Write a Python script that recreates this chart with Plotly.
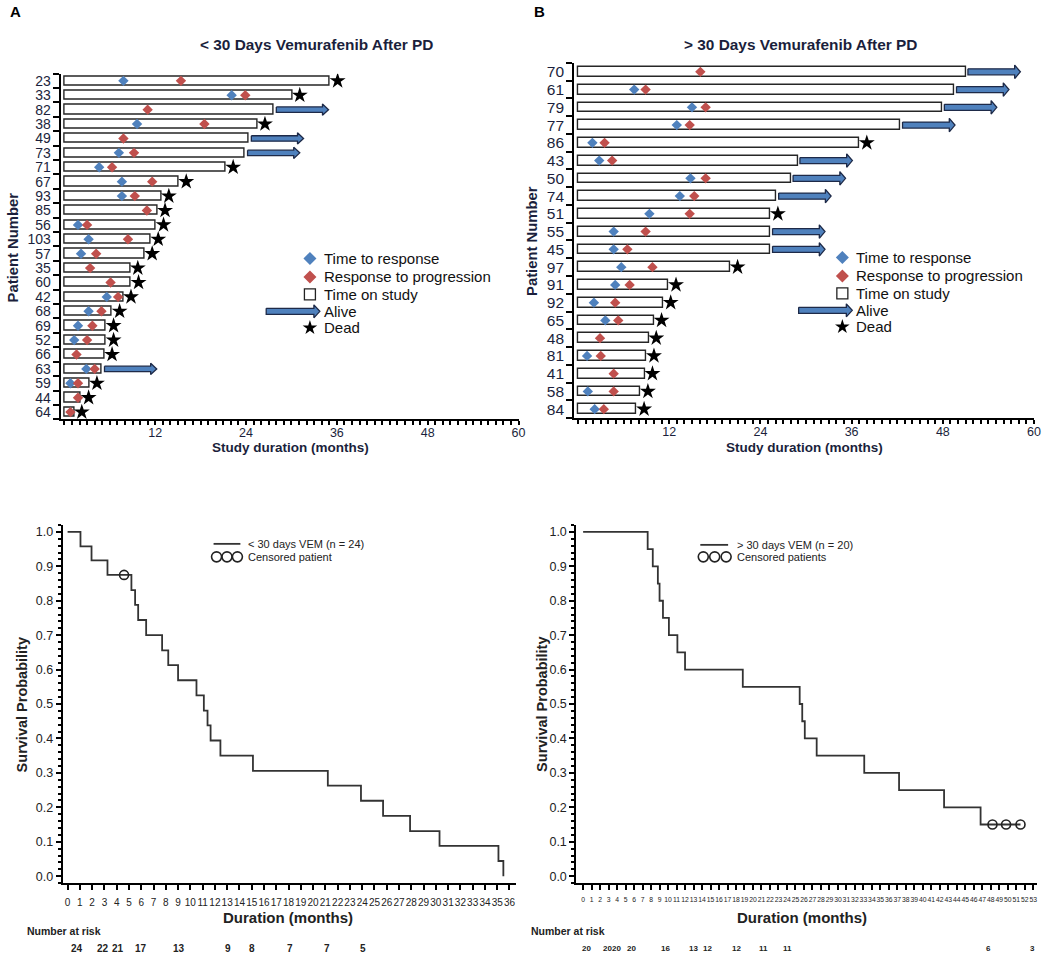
import plotly.graph_objects as go

# ---------------- data ----------------
A_PATIENTS = ["23", "33", "82", "38", "49", "73", "71", "67", "93", "85", "56", "103",
              "57", "35", "60", "42", "68", "69", "52", "66", "63", "59", "44", "64"]
A_END = [35.1, 30.1, 27.6, 25.5, 24.3, 23.8, 21.3, 15.1, 12.8, 12.3, 12.1, 11.4,
         10.6, 8.7, 8.8, 7.8, 6.3, 5.5, 5.5, 5.3, 4.9, 3.3, 2.2, 1.3]
A_RESPONSE = [7.8, 22.1, None, 9.6, None, 7.2, 4.6, 7.6, 7.6, None, 1.8, 3.2,
              2.2, None, None, 5.6, 3.2, 1.8, 1.3, None, 2.9, 0.8, None, None]
A_PROGRESSION = [15.4, 23.9, 11.0, 18.5, 7.8, 9.2, 6.3, 11.6, 9.3, 10.9, 3.0, 8.4,
                 4.2, 3.4, 6.1, 7.1, 4.9, 3.7, 3.0, 1.6, 4.0, 1.8, 1.8, 0.8]
A_ALIVE = [0, 0, 1, 0, 1, 1, 0, 0, 0, 0, 0, 0, 0, 0, 0, 0, 0, 0, 0, 0, 1, 0, 0, 0]

B_PATIENTS = ["70", "61", "79", "77", "86", "43", "50", "74", "51", "55",
              "45", "97", "91", "92", "65", "48", "81", "41", "58", "84"]
B_END = [51.0, 49.5, 47.9, 42.4, 37.0, 28.9, 28.0, 26.1, 25.3, 25.3,
         25.3, 20.0, 11.9, 11.2, 10.0, 9.3, 9.0, 8.8, 8.2, 7.7]
B_RESPONSE = [None, 7.4, 15.0, 13.0, 1.9, 2.8, 14.8, 13.4, 9.4, 4.7,
              4.7, 5.7, 4.9, 2.1, 3.6, None, 1.2, None, 1.3, 2.2]
B_PROGRESSION = [16.1, 8.9, 16.8, 14.7, 3.5, 4.5, 16.8, 15.3, 14.7, 8.9,
                 6.5, 9.8, 6.8, 4.9, 5.3, 2.9, 3.0, 4.7, 4.7, 3.4]
B_ALIVE = [1, 1, 1, 1, 0, 1, 1, 1, 0, 1, 1, 0, 0, 0, 0, 0, 0, 0, 0, 0]

KM_A_TIME = [0, 1.05, 1.95, 3.25, 5.2, 5.5, 5.75, 6.4, 7.7, 8.2, 9.0, 10.5,
             11.1, 11.4, 11.65, 12.45, 15.1, 21.2, 23.9, 25.7, 27.9, 30.3, 35.1, 35.5]
KM_A_SURV = [1.0, 0.958, 0.917, 0.875, 0.831, 0.788, 0.744, 0.700, 0.656, 0.613, 0.569, 0.525,
             0.481, 0.438, 0.394, 0.350, 0.306, 0.263, 0.219, 0.175, 0.131, 0.088, 0.044, 0.0]
KM_A_CENSOR_T = [4.6]
KM_A_CENSOR_S = [0.875]

KM_B_TIME = [0, 7.6, 8.2, 8.8, 9.0, 9.4, 10.1, 11.1, 12.0, 18.8, 25.5, 25.8,
             26.1, 27.5, 33.1, 37.2, 42.5, 46.8, 51.5]
KM_B_SURV = [1.0, 0.95, 0.90, 0.85, 0.80, 0.75, 0.70, 0.65, 0.60, 0.55, 0.50, 0.45,
             0.40, 0.35, 0.30, 0.25, 0.20, 0.15, 0.15]
KM_B_CENSOR_T = [48.2, 49.8, 51.5]
KM_B_CENSOR_S = [0.15, 0.15, 0.15]

RISK_A_TIME = [0.8, 2.9, 4.1, 6.0, 9.1, 13.1, 15.0, 18.1, 21.1, 24.1]
RISK_A_N = [24, 22, 21, 17, 13, 9, 8, 7, 7, 5]
RISK_B_TIME = [0.35, 2.9, 3.9, 5.7, 9.7, 13.0, 14.7, 18.1, 21.2, 24.1, 47.7, 52.9]
RISK_B_N = [20, 20, 20, 20, 16, 13, 12, 12, 11, 11, 6, 3]

SWIM_TICKS = [12, 24, 36, 48, 60]
KM_TICKS_Y = [0.0, 0.1, 0.2, 0.3, 0.4, 0.5, 0.6, 0.7, 0.8, 0.9, 1.0]

# ---------------- styling ----------------
W, H = 1050, 954
FONT = "Liberation Sans, Arial, sans-serif"
NAVY = "#1b1f3c"
INK = "#222222"
BLUE = "#4f81bd"
RED = "#c0504d"
ARROW_EDGE = "#1e2a48"


def px_x(p):
    return p / W


def px_y(p):
    return 1 - p / H


fig = go.Figure()


def add_swimmer(xa, ya, ends, resp, prog, alive, bar_w, gap, alen, head_len, body_h, head_h,
                star_off, star_size, dia_size):
    idx = list(range(len(ends)))
    fig.add_trace(go.Bar(x=ends, y=idx, base=0, orientation="h", width=bar_w,
                         marker=dict(color="white", line=dict(color="#262626", width=1.4)),
                         xaxis=xa, yaxis=ya, showlegend=False, hoverinfo="skip"))
    ax, ay = [], []
    for i, (e, a) in enumerate(zip(ends, alive)):
        if a:
            x0 = e + gap
            x1 = x0 + alen
            xh = x1 - head_len
            ax += [x0, xh, xh, x1, xh, xh, x0, x0, None]
            ay += [i - body_h, i - body_h, i - head_h, i, i + head_h, i + body_h, i + body_h, i - body_h, None]
    fig.add_trace(go.Scatter(x=ax, y=ay, mode="lines", fill="toself", fillcolor=BLUE,
                             line=dict(color=ARROW_EDGE, width=1.3), xaxis=xa, yaxis=ya,
                             showlegend=False, hoverinfo="skip"))
    ri = [i for i, v in enumerate(resp) if v is not None]
    fig.add_trace(go.Scatter(x=[resp[i] for i in ri], y=ri, mode="markers",
                             marker=dict(symbol="diamond", size=dia_size, color=BLUE),
                             xaxis=xa, yaxis=ya, showlegend=False))
    fig.add_trace(go.Scatter(x=prog, y=idx, mode="markers",
                             marker=dict(symbol="diamond", size=dia_size, color=RED),
                             xaxis=xa, yaxis=ya, showlegend=False))
    di = [i for i, a in enumerate(alive) if not a]
    fig.add_trace(go.Scatter(x=[ends[i] + star_off for i in di], y=di, mode="markers",
                             marker=dict(symbol="star", size=star_size, color="black"),
                             xaxis=xa, yaxis=ya, showlegend=False))


add_swimmer("x", "y", A_END, A_RESPONSE, A_PROGRESSION, A_ALIVE, 0.64, 0.4, 6.9, 0.8, 0.19, 0.39,
            1.0, 12, 8)
add_swimmer("x2", "y2", B_END, B_RESPONSE, B_PROGRESSION, B_ALIVE, 0.55, 0.3, 6.9, 0.75, 0.17, 0.38,
            1.0, 12, 8)

# Kaplan-Meier curves
for xa, ya, t, s, ct, cs in [("x3", "y3", KM_A_TIME, KM_A_SURV, KM_A_CENSOR_T, KM_A_CENSOR_S),
                             ("x4", "y4", KM_B_TIME, KM_B_SURV, KM_B_CENSOR_T, KM_B_CENSOR_S)]:
    fig.add_trace(go.Scatter(x=t, y=s, mode="lines", line=dict(color="#333333", width=1.8, shape="hv"),
                             xaxis=xa, yaxis=ya, showlegend=False))
    fig.add_trace(go.Scatter(x=ct, y=cs, mode="markers",
                             marker=dict(symbol="circle-open", size=9, color="#222222", line=dict(width=1.6)),
                             xaxis=xa, yaxis=ya, showlegend=False))

# ---------------- legend keys (layout, pixel space overlay) ----------------
LEG_SWIM = [  # (symbol x, text x, first row y) per panel
    (312, 324, 258),
    (848, 860, 257),
]
LEG_ROWS = [0, 18.5, 36, 53, 69.5]
LEG_TEXT = ["Time to response", "Response to progression", "Time on study", "Alive", "Dead"]
for sx, tx, y0 in LEG_SWIM:
    ys = [y0 + d for d in LEG_ROWS]
    fig.add_trace(go.Scatter(x=[sx, sx], y=ys[:2], mode="markers",
                             marker=dict(symbol="diamond", size=10, color=[BLUE, RED]),
                             xaxis="x5", yaxis="y5", showlegend=False, hoverinfo="skip"))
    fig.add_trace(go.Scatter(x=[sx], y=[ys[2]], mode="markers",
                             marker=dict(symbol="square-open", size=11, color="#222222", line=dict(width=1.3)),
                             xaxis="x5", yaxis="y5", showlegend=False, hoverinfo="skip"))
    fig.add_trace(go.Scatter(x=[sx], y=[ys[4]], mode="markers",
                             marker=dict(symbol="star", size=11, color="black"),
                             xaxis="x5", yaxis="y5", showlegend=False, hoverinfo="skip"))
    ax0, ax1 = sx - 44, tx - 2
    axh = ax1 - 6
    yc = ys[3]
    fig.add_trace(go.Scatter(x=[ax0, axh, axh, ax1, axh, axh, ax0, ax0],
                             y=[yc - 3, yc - 3, yc - 6.5, yc, yc + 6.5, yc + 3, yc + 3, yc - 3],
                             mode="lines", fill="toself", fillcolor=BLUE,
                             line=dict(color=ARROW_EDGE, width=1.3),
                             xaxis="x5", yaxis="y5", showlegend=False, hoverinfo="skip"))

LEG_KM = [  # (line x0, line x1, circle xs, text x, y line, y circles, labels)
    (215, 242, [218, 228.5, 239], 248, 544, 557, "&lt; 30 days VEM (n = 24)", "Censored patient"),
    (705, 733, [708, 719.5, 731], 740, 545, 557, "&gt; 30 days VEM (n = 20)", "Censored patients"),
]
annotations = []
for lx0, lx1, cxs, tx, yl, yc, lab1, lab2 in LEG_KM:
    fig.add_trace(go.Scatter(x=[lx0, lx1], y=[yl, yl], mode="lines", line=dict(color="#333333", width=1.8),
                             xaxis="x5", yaxis="y5", showlegend=False, hoverinfo="skip"))
    fig.add_trace(go.Scatter(x=cxs, y=[yc] * 3, mode="markers",
                             marker=dict(symbol="circle-open", size=10, color="#222222", line=dict(width=1.6)),
                             xaxis="x5", yaxis="y5", showlegend=False, hoverinfo="skip"))
    for lab, yy in [(lab1, yl), (lab2, yc)]:
        annotations.append(dict(text=lab, x=px_x(tx), y=px_y(yy), xref="paper", yref="paper",
                                xanchor="left", yanchor="middle", showarrow=False,
                                font=dict(family=FONT, size=11, color=INK)))

for sx, tx, y0 in LEG_SWIM:
    for k, (lab, d) in enumerate(zip(LEG_TEXT, LEG_ROWS)):
        annotations.append(dict(text=lab, x=px_x(tx), y=px_y(y0 + d), xref="paper", yref="paper",
                                xanchor="left", yanchor="middle", showarrow=False,
                                font=dict(family=FONT, size=15, color="#111111")))


def text(t, x, y, size, bold=True, color=NAVY, angle=0, xanchor="center", family=FONT):
    annotations.append(dict(text=("<b>%s</b>" % t) if bold else t, x=px_x(x), y=px_y(y),
                            xref="paper", yref="paper", xanchor=xanchor, yanchor="middle",
                            showarrow=False, textangle=angle,
                            font=dict(family=family, size=size, color=color)))


text("A", 8, 11, 15, color="black", xanchor="left")
text("B", 536, 11, 15, color="black", xanchor="left")
text("&lt; 30 Days Vemurafenib After PD", 199, 44, 15.4, xanchor="left")
text("&gt; 30 Days Vemurafenib After PD", 806, 44, 15.4)
text("Study duration (months)", 292, 447, 13.5)
text("Study duration (months)", 810, 447, 13.5)
text("Patient Number", 14, 247, 14.8, angle=-90)
text("Patient Number", 536, 240, 14.8, angle=-90)
text("Survival Probability", 22, 705, 14.5, color=INK, angle=-90)
text("Survival Probability", 545, 705, 14.5, color=INK, angle=-90)
text("Duration (months)", 290, 918, 15, color=INK)
text("Duration (months)", 807, 918, 15, color=INK)
text("Number at risk", 25, 932, 10.5, color=INK, xanchor="left")
text("Number at risk", 533, 932, 10.5, color=INK, xanchor="left")

for t, n in zip(RISK_A_TIME, RISK_A_N):
    annotations.append(dict(text="<b>%d</b>" % n, x=t, y=px_y(949), xref="x3", yref="paper",
                            showarrow=False, yanchor="middle",
                            font=dict(family=FONT, size=10, color=INK)))
for t, n in zip(RISK_B_TIME, RISK_B_N):
    annotations.append(dict(text="<b>%d</b>" % n, x=t, y=px_y(949), xref="x4", yref="paper",
                            showarrow=False, yanchor="middle",
                            font=dict(family=FONT, size=8, color=INK)))

# ---------------- axes ----------------
AX = dict(showgrid=False, zeroline=False, showline=True, linecolor="black", linewidth=2,
          ticks="outside", tickcolor="black")


def swim_x(domain, anchor):
    return dict(AX, domain=domain, anchor=anchor, range=[-0.5, 60], tickmode="array",
                tickvals=SWIM_TICKS, ticklen=4, tickwidth=2, ticklabelstandoff=-3, tickangle=0,
                tickfont=dict(family=FONT, size=12.5, color=NAVY),
                minor=dict(tickmode="linear", tick0=0, dtick=1, ticks="outside", ticklen=4,
                           tickwidth=1.5, tickcolor="black"))


def swim_y(domain, anchor, labels, size):
    n = len(labels)
    return dict(AX, domain=domain, anchor=anchor, range=[n - 0.5, -0.5], tickmode="array",
                tickvals=list(range(n)), ticktext=labels, ticks="", ticklabelstandoff=5,
                tickfont=dict(family=FONT, size=size, color=NAVY),
                minor=dict(tickmode="linear", tick0=0.5, dtick=1, ticks="outside", ticklen=6,
                           tickwidth=1.5, tickcolor="black"))


def km_x(domain, anchor, rng, nmax, size):
    return dict(AX, domain=domain, anchor=anchor, range=rng, tickmode="array",
                tickvals=list(range(nmax + 1)), ticktext=[str(i) for i in range(nmax + 1)],
                ticklen=5, tickwidth=2, tickangle=0, ticklabelstandoff=4,
                tickfont=dict(family=FONT, size=size, color=INK))


def km_y(domain, anchor):
    return dict(AX, domain=domain, anchor=anchor, range=[-0.02, 1.02], tickmode="array",
                tickvals=KM_TICKS_Y, ticktext=["%.1f" % v for v in KM_TICKS_Y],
                ticklen=5, tickwidth=2, tickfont=dict(family=FONT, size=12.5, color=INK),
                minor=dict(tickmode="linear", tick0=0, dtick=0.02, ticks="outside", ticklen=3,
                           tickwidth=1.5, tickcolor="black"))


KM_Y_DOM = [px_y(883.9), px_y(525.1)]

fig.update_layout(
    width=W, height=H, margin=dict(l=0, r=0, t=0, b=0),
    paper_bgcolor="white", plot_bgcolor="rgba(0,0,0,0)",
    showlegend=False, bargap=0,
    xaxis=swim_x([px_x(61), px_x(522)], "y"),
    yaxis=swim_y([px_y(419.2), px_y(72.8)], "x", A_PATIENTS, 14),
    xaxis2=swim_x([px_x(578), px_x(1041)], "y2"),
    yaxis2=swim_y([px_y(417.9), px_y(62.1)], "x2", B_PATIENTS, 15.5),
    xaxis3=km_x([px_x(63.1), px_x(519.1)], "y3", [-0.4, 36.5], 36, 10),
    yaxis3=km_y(KM_Y_DOM, "x3"),
    xaxis4=km_x([px_x(580.2), px_x(1043.6)], "y4", [-0.8, 53.4], 53, 6.8),
    yaxis4=km_y(KM_Y_DOM, "x4"),
    xaxis5=dict(domain=[0, 1], range=[0, W], visible=False, anchor="y5"),
    yaxis5=dict(domain=[0, 1], range=[H, 0], visible=False, anchor="x5"),
    annotations=annotations,
)

fig.write_html("out.html", config={"displayModeBar": False},
               post_script="document.body.style.margin='0';document.body.style.overflow='hidden';")
